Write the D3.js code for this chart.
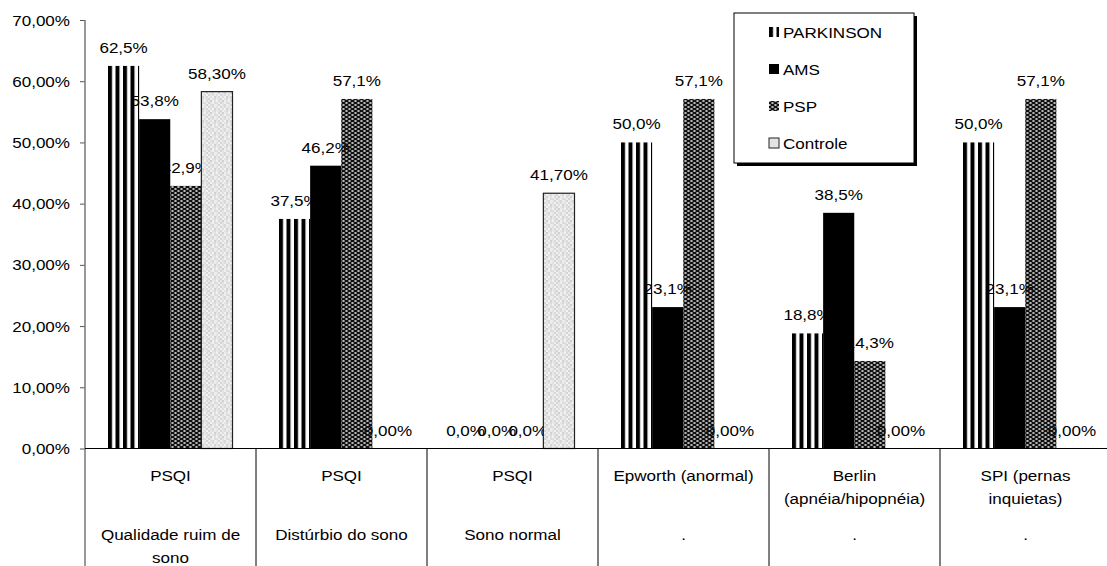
<!DOCTYPE html>
<html><head><meta charset="utf-8">
<script src="https://cdn.jsdelivr.net/npm/d3@7/dist/d3.min.js"></script>
<style>
html,body{margin:0;padding:0;background:#fff;}
text{font-family:"Liberation Sans",Arial,sans-serif;fill:#000;}
</style></head>
<body>
<svg id="chart" width="1107" height="566"></svg>
<script>
const categoriesTop = ["PSQI","PSQI","PSQI","Epworth (anormal)","Berlin\n(apnéia/hipopnéia)","SPI (pernas\ninquietas)"];
const categoriesSub = ["Qualidade ruim de\nsono","Distúrbio do sono","Sono normal",".",".","."];
const seriesNames = ["PARKINSON","AMS","PSP","Controle"];
const parkinson = [62.5,37.5,0,50,18.8,50];
const ams = [53.8,46.2,0,23.1,38.5,23.1];
const psp = [42.9,57.1,0,57.1,14.3,57.1];
const controle = [58.3,0,41.7,0,0,0];
const labelDecimals = [1,1,1,2];
const yTicks = [0,10,20,30,40,50,60,70];

const seriesValues = [parkinson, ams, psp, controle];
const svg = d3.select("#chart");
const FS = 15.5, SX = 1.1;
const defs = svg.append("defs");

const x0 = d3.scaleBand().domain(d3.range(categoriesTop.length)).range([85, 1111]);
const x1 = d3.scaleBand().domain(d3.range(seriesNames.length)).range([23, 147.5]);
const y = d3.scaleLinear().domain([0,70]).range([448.5, 20]);

function fmt(v, d){ return v.toFixed(d).replace(".", ",") + "%"; }
function stext(g, x, yy, str, anchor){
  return g.append("text").attr("transform", `translate(${x},${yy}) scale(${SX},1)`)
    .attr("text-anchor", anchor).attr("font-size", FS).text(str);
}

// patterns
function stripePattern(id, x0v){
  const p = defs.append("pattern").attr("id", id).attr("patternUnits","userSpaceOnUse")
    .attr("x", x0v).attr("y", 0).attr("width", 7.5).attr("height", 10);
  p.append("rect").attr("width",4).attr("height",10).attr("fill","#000");
}
categoriesTop.forEach((c,i)=> stripePattern("stripe"+i, x0(i)+x1(0)));
stripePattern("stripeLeg", 769);

const dots = defs.append("pattern").attr("id","dots").attr("patternUnits","userSpaceOnUse")
  .attr("width",6).attr("height",4);
dots.append("path").attr("fill","#111").attr("fill-rule","evenodd")
  .attr("d","M0,0H6V4H0Z M0.1,1a1.4,0.8 0 1,0 2.8,0a1.4,0.8 0 1,0 -2.8,0Z M3.1,3a1.4,0.8 0 1,0 2.8,0a1.4,0.8 0 1,0 -2.8,0Z");

const granite = defs.append("pattern").attr("id","granite").attr("patternUnits","userSpaceOnUse")
  .attr("width",12).attr("height",12);
const gshades = ["#e6e6e6","#d9d9d9","#efefef","#dedede","#f2f2f2","#d2d2d2",
                 "#ebebeb","#e0e0e0","#d6d6d6","#f0f0f0","#e4e4e4","#dadada",
                 "#f3f3f3","#d8d8d8","#e8e8e8","#cfcfcf","#ececec","#e2e2e2",
                 "#dcdcdc","#eeeeee","#d4d4d4","#e5e5e5","#f1f1f1","#dbdbdb",
                 "#e9e9e9","#d3d3d3","#efefef","#e1e1e1","#d7d7d7","#ededed",
                 "#dfdfdf","#f4f4f4","#d5d5d5","#e7e7e7","#dddddd","#eaeaea"];
gshades.forEach((c,k)=>{
  granite.append("rect").attr("x",(k%6)*2).attr("y",Math.floor(k/6)*2).attr("width",2).attr("height",2).attr("fill",c);
});

const fills = [i=>`url(#stripe${i})`, ()=>"#000", ()=>"url(#dots)", ()=>"url(#granite)"];

// value labels (drawn beneath bars)
const lblG = svg.append("g");
seriesValues.forEach((vals, s)=>{
  vals.forEach((v,i)=>{
    const cx = x0(i) + x1(s) + x1.bandwidth()/2;
    stext(lblG, cx, y(v) - 13, fmt(v, labelDecimals[s]), "middle");
  });
});

// bars
const barG = svg.append("g");
seriesValues.forEach((vals, s)=>{
  barG.selectAll(null).data(vals).enter().append("rect")
    .attr("x", (d,i)=> x0(i) + x1(s))
    .attr("y", d=> y(d))
    .attr("width", x1.bandwidth())
    .attr("height", d=> y(0) - y(d))
    .attr("fill", (d,i)=> fills[s](i))
    .attr("stroke", s===3 ? "#222" : "none")
    .attr("stroke-width", s===3 ? 1.2 : 0);
});

// y axis
const yAxis = d3.axisLeft(y).tickValues(yTicks).tickSize(5).tickFormat(d=>"");
const ya = svg.append("g").attr("transform","translate(85,0)").call(yAxis);
ya.select(".domain").remove();
ya.selectAll(".tick line").attr("stroke","#555");
svg.append("line").attr("x1",85).attr("x2",85).attr("y1",20).attr("y2",566).attr("stroke","#777").attr("stroke-width",1.5);
yTicks.forEach(t=>{
  stext(svg, 70, y(t)+5.5, t.toFixed(2).replace(".",",")+"%", "end");
});

// x axis baseline and separators
svg.append("line").attr("x1",85).attr("x2",1107).attr("y1",y(0)).attr("y2",y(0)).attr("stroke","#000");
categoriesTop.forEach((c,i)=>{
  if(i>0) svg.append("line").attr("x1",x0(i)).attr("x2",x0(i)).attr("y1",y(0)).attr("y2",566).attr("stroke","#000");
  const cx = x0(i) + x0.bandwidth()/2;
  c.split("\n").forEach((line,k)=> stext(svg, cx, 475 + 5.5 + k*23, line, "middle"));
  categoriesSub[i].split("\n").forEach((line,k)=> stext(svg, cx, 534 + 5.5 + k*23, line, "middle"));
});

// legend
const leg = svg.append("g");
leg.append("rect").attr("x",737).attr("y",16).attr("width",180).attr("height",150).attr("fill","#000");
leg.append("rect").attr("x",734).attr("y",13).attr("width",180).attr("height",150).attr("fill","#fff").attr("stroke","#000");
const legFills = ["url(#stripeLeg)","#000","url(#dots)","#e4e4e4"];
seriesNames.forEach((n,k)=>{
  const cy = 32 + k*37;
  leg.append("rect").attr("x",769).attr("y",cy-5).attr("width",10).attr("height",10)
    .attr("fill",legFills[k]).attr("stroke", k===3 ? "#222" : "none");
  stext(leg, 783, cy+5.5, n, "start");
});
</script>
</body></html>
